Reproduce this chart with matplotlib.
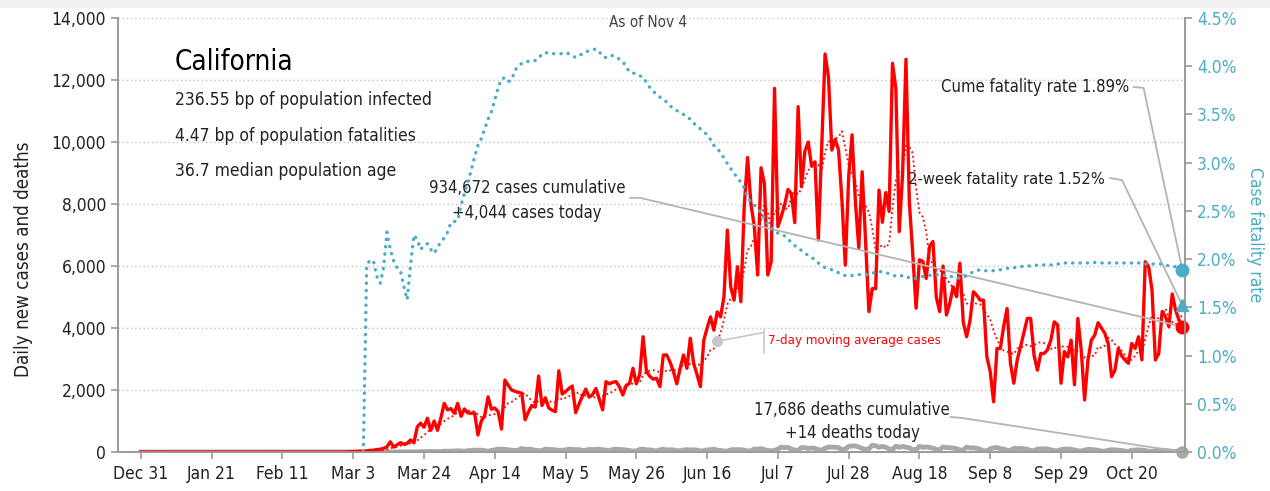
import matplotlib
matplotlib.use("Agg")
import matplotlib.pyplot as plt
from matplotlib import font_manager as fm
import numpy as np
import pandas as pd

# pick a narrow face if one is installed
_faces = [(f.name, f.stretch) for f in fm.fontManager.ttflist]
_narrow = [n for n, s in _faces if s in ("condensed", "semi-condensed", "extra-condensed", 75, 62, 87)
           or "Narrow" in n or "Condensed" in n]
plt.rcParams['font.family'] = list(dict.fromkeys(_narrow[:1] + ['DejaVu Sans']))
plt.rcParams['font.stretch'] = 'condensed'

# ---- data ----
start_date = "2019-12-31"
series_start = "2020-03-01"

# daily new cases from Mar 1, one row per week
cases = [
    5, 10, 15, 20, 30, 20, 40,
    50, 60, 80, 90, 120, 170, 330,
    160, 230, 300, 250, 280, 390, 300,
    810, 930, 800, 1090, 700, 1000, 700,
    1100, 1570, 1360, 1400, 1250, 1570, 1150,
    1390, 1260, 1250, 1260, 550, 1000, 1170,
    1780, 1380, 1420, 1300, 740, 2320, 2150,
    2000, 1960, 1920, 1900, 1040, 1300, 1500,
    1450, 2450, 1500, 1750, 1420, 1350, 1300,
    2620, 1870, 1950, 2050, 2130, 1270, 1550,
    1800, 2030, 1770, 1850, 2050, 1700, 1360,
    2270, 2200, 2250, 2270, 2100, 1840, 2150,
    2220, 2700, 2200, 2500, 3720, 2600, 2440,
    2350, 2380, 2110, 3130, 3130, 2900, 2600,
    2200, 2700, 3130, 2700, 3670, 2860, 2500,
    2110, 3600, 4000, 4360, 3930, 4520, 4360,
    5010, 7160, 5330, 4900, 5980, 4850, 7910,
    9500, 8000, 7270, 5710, 9170, 8660, 5710,
    6140, 11730, 7270, 7600, 7970, 8470, 8340,
    7400, 11140, 8560, 9700, 10000, 9220, 9360,
    6840, 9800, 12840, 12100, 9740, 10080, 9740,
    8130, 6030, 8880, 10230, 8060, 6590, 9040,
    6840, 4530, 5270, 5270, 8450, 7410, 8370,
    7760, 12540, 11730, 7110, 8980, 12670, 8060,
    6410, 4640, 6200, 6150, 5600, 6630, 6790,
    5000, 4530, 6000, 4420, 4800, 5330, 5010,
    6090, 4180, 3720, 4240, 5170, 5060, 4900,
    4900, 3070, 2590, 1620, 3340, 3340, 4060,
    4630, 2860, 2220, 2970, 3400, 3850, 4310,
    4310, 3120, 2640, 3180, 3180, 3300, 3610,
    4200, 4100, 2220, 3240, 3070, 3610, 2170,
    4310, 3290, 1680, 2970, 3610, 3770, 4170,
    4000, 3830, 3500, 2430, 2640, 3340, 3100,
    2970, 2860, 3500, 3340, 3720, 2970, 6140,
    5980, 5230, 2970, 3180, 4530, 4370, 4040,
    5100, 4580, 4260, 4044,
]

# daily deaths from Mar 1
deaths = [
    0, 0, 0, 1, 0, 0, 0,
    0, 1, 0, 1, 2, 1, 2,
    1, 2, 5, 4, 3, 6, 5,
    6, 13, 9, 14, 18, 15, 17,
    14, 25, 27, 32, 30, 40, 33,
    24, 45, 46, 61, 58, 59, 45,
    24, 50, 71, 91, 95, 86, 74,
    58, 50, 62, 115, 84, 90, 84,
    52, 45, 48, 95, 85, 79, 71,
    53, 56, 67, 95, 82, 75, 79,
    48, 57, 82, 75, 86, 92, 69,
    63, 40, 80, 91, 84, 75, 64,
    48, 30, 36, 82, 92, 68, 70,
    48, 38, 72, 86, 65, 71, 68,
    42, 40, 65, 74, 66, 70, 60,
    36, 38, 70, 72, 92, 58, 50,
    32, 30, 68, 78, 75, 76, 56,
    35, 38, 100, 89, 110, 75, 48,
    40, 52, 94, 158, 143, 148, 95,
    62, 50, 144, 140, 115, 130, 118,
    78, 60, 120, 157, 159, 152, 140,
    70, 92, 178, 197, 194, 161, 117,
    80, 100, 219, 202, 155, 180, 153,
    102, 76, 186, 151, 180, 155, 138,
    76, 74, 182, 150, 162, 148, 126,
    80, 70, 165, 145, 138, 125, 110,
    62, 64, 160, 130, 135, 121, 88,
    42, 36, 98, 135, 144, 108, 95,
    55, 48, 120, 110, 118, 105, 90,
    48, 40, 95, 98, 105, 96, 72,
    45, 35, 80, 92, 98, 86, 68,
    38, 30, 60, 85, 80, 70, 55,
    30, 28, 56, 75, 68, 64, 52,
    26, 22, 52, 64, 70, 58, 48,
    24, 20, 40, 60, 56, 52, 38,
    22, 18, 36, 14,
]

# case fatality rate (%) from Mar 1
nan = np.nan
cfr = [
    nan, nan, nan, nan, nan, 0.00, 1.94,
    1.99, 1.98, 1.82, 1.75, 1.91, 2.28, 2.10,
    1.98, 1.91, 1.88, 1.72, 1.58, 1.94, 2.25,
    2.20, 2.10, 2.14, 2.16, 2.10, 2.06, 2.12,
    2.18, 2.22, 2.28, 2.38, 2.39, 2.40, 2.56,
    2.68, 2.80, 2.92, 3.06, 3.18, 3.25, 3.35,
    3.45, 3.53, 3.65, 3.78, 3.87, 3.88, 3.84,
    3.86, 3.96, 4.00, 4.03, 4.05, 4.05, 4.05,
    4.06, 4.08, 4.13, 4.14, 4.14, 4.13, 4.13,
    4.13, 4.13, 4.14, 4.13, 4.11, 4.09, 4.11,
    4.13, 4.15, 4.16, 4.17, 4.18, 4.15, 4.10,
    4.09, 4.11, 4.11, 4.10, 4.07, 4.05, 3.99,
    3.94, 3.93, 3.92, 3.90, 3.89, 3.83, 3.78,
    3.74, 3.71, 3.68, 3.65, 3.63, 3.59, 3.56,
    3.54, 3.52, 3.50, 3.48, 3.45, 3.41, 3.38,
    3.35, 3.32, 3.29, 3.24, 3.18, 3.15, 3.10,
    3.05, 2.99, 2.94, 2.89, 2.84, 2.80, 2.74,
    2.64, 2.59, 2.56, 2.52, 2.48, 2.42, 2.36,
    2.33, 2.28, 2.27, 2.26, 2.24, 2.21, 2.17,
    2.14, 2.11, 2.09, 2.06, 2.04, 2.02, 1.99,
    1.96, 1.94, 1.91, 1.90, 1.89, 1.87, 1.86,
    1.84, 1.83, 1.83, 1.83, 1.84, 1.84, 1.84,
    1.84, 1.84, 1.85, 1.87, 1.87, 1.87, 1.86,
    1.85, 1.84, 1.82, 1.82, 1.83, 1.81, 1.81,
    1.80, 1.80, 1.81, 1.82, 1.83, 1.83, 1.84,
    1.84, 1.83, 1.83, 1.83, 1.82, 1.82, 1.81,
    1.80, 1.81, 1.83, 1.85, 1.87, 1.88, 1.89,
    1.88, 1.88, 1.88, 1.88, 1.89, 1.89, 1.90,
    1.905, 1.91, 1.91, 1.92, 1.92, 1.93, 1.93,
    1.93, 1.93, 1.94, 1.94, 1.94, 1.94, 1.94,
    1.94, 1.95, 1.95, 1.96, 1.96, 1.96, 1.96,
    1.96, 1.96, 1.96, 1.96, 1.96, 1.965, 1.965,
    1.96, 1.96, 1.96, 1.96, 1.96, 1.96, 1.96,
    1.96, 1.96, 1.96, 1.96, 1.96, 1.96, 1.95,
    1.95, 1.95, 1.95, 1.95, 1.95, 1.94, 1.93,
    1.93, 1.92, 1.91, 1.89,
]

two_week_cfr = 1.52
tick_labels = ["Dec 31", "Jan 21", "Feb 11", "Mar 3", "Mar 24", "Apr 14", "May 5",
               "May 26", "Jun 16", "Jul 7", "Jul 28", "Aug 18", "Sep 8", "Sep 29", "Oct 20"]

state = "California"
stats_lines = ["236.55 bp of population infected",
               "4.47 bp of population fatalities",
               "36.7 median population age"]

RED = "#ff0000"
TEAL = "#4bacc6"
GREY = "#a8a8a8"
TXT = "#222222"

# ---- build frame ----
full_idx = pd.date_range(start_date, "2020-11-04", freq="D")
part_idx = pd.date_range(series_start, periods=len(cases), freq="D")
df = pd.DataFrame({"cases": cases, "deaths": deaths, "cfr": cfr}, index=part_idx)
df = df.reindex(full_idx)
df["cases"] = df["cases"].fillna(0)
df["deaths"] = df["deaths"].fillna(0)
df["ma"] = df["cases"].rolling(7).mean()
last = df.index[-1]

fig = plt.figure(figsize=(12.7, 4.91), dpi=100)
fig.patches.append(plt.Rectangle((0, 0.985), 1, 0.015, transform=fig.transFigure,
                                 color="#f0f0f0", zorder=0))
ax = fig.add_axes([0.0929, 0.0794, 0.8402, 0.8839])
ax2 = ax.twinx()

ax.set_ylim(0, 14000)
ax2.set_ylim(0, 4.5)
ax.set_xlim(pd.Timestamp(start_date) - pd.Timedelta(days=6.8),
            pd.Timestamp(start_date) + pd.Timedelta(days=309.8))

ax.grid(axis="y", color="#c4c4c4", linestyle=(0, (1, 2)), linewidth=1)
ax.set_axisbelow(True)

# deaths
ax.plot(df.index, df["deaths"], color=GREY, lw=3.5, solid_joinstyle="round", zorder=3)
# cases
ax.plot(df.index, df["cases"], color=RED, lw=2.4, solid_joinstyle="round", zorder=4)
ax.plot(df.index, df["ma"], color=RED, lw=1.3, linestyle=(0, (1, 1.6)), zorder=4)
# cfr
ax2.plot(df.index, df["cfr"], color=TEAL, lw=2.4, linestyle=(0, (0.1, 2.1)),
         dash_capstyle="round", zorder=2)

# end markers
ax.plot([last], [df["cases"].iloc[-1]], "o", color=RED, ms=9, zorder=6, clip_on=False)
ax.plot([last], [df["deaths"].iloc[-1]], "o", color=GREY, ms=8, zorder=6, clip_on=False)
ax2.plot([last], [df["cfr"].iloc[-1]], "o", color=TEAL, ms=9, zorder=6, clip_on=False)
ax2.plot([last], [two_week_cfr], "^", color=TEAL, ms=9, zorder=6, clip_on=False)

# axes styling
tick_dates = pd.date_range(start_date, periods=len(tick_labels), freq="21D")
ax.set_xticks(tick_dates)
ax.set_xticklabels(tick_labels)
ax.set_yticks(np.arange(0, 14001, 2000))
ax.set_yticklabels([f"{v:,}" for v in range(0, 14001, 2000)])
ax2.set_yticks(np.arange(0, 4.51, 0.5))
ax2.set_yticklabels([f"{v:.1f}%" for v in np.arange(0, 4.51, 0.5)])

for a in (ax, ax2):
    a.spines["top"].set_visible(False)
    for s in ("left", "right", "bottom"):
        a.spines[s].set_color("#9a9a9a")
        a.spines[s].set_linewidth(1.2)
ax.tick_params(axis="both", colors="#9a9a9a", labelcolor=TXT, labelsize=12.5, length=5, width=1.2)
ax.tick_params(axis="x", pad=4)
ax2.tick_params(axis="y", colors="#9a9a9a", labelcolor=TEAL, labelsize=12.5, length=5, width=1.2)

ax.set_ylabel("Daily new cases and deaths", fontsize=13.5, color=TXT)
ax.yaxis.set_label_coords(-0.08, 0.445)
ax2.set_ylabel("Case fatality rate", fontsize=12.5, color=TEAL, rotation=270, labelpad=20)

def day(n):
    return pd.Timestamp(start_date) + pd.Timedelta(days=n)

# text block
ax.text(day(10.1), 12580, state, fontsize=20, color="black", va="center", ha="left")
for i, line in enumerate(stats_lines):
    ax.text(day(10.1), 11340 - i * 1140, line, fontsize=12.5, color=TXT, va="center", ha="left")

ax.text(day(150.5), 13870, "As of Nov 4", fontsize=11, color="#444444", ha="center", va="center")

# cases annotation
ax.text(day(114.5), 8520, "934,672 cases cumulative", fontsize=12, color=TXT, ha="center", va="center")
ax.text(day(114.5), 7710, "+4,044 cases today", fontsize=12, color=TXT, ha="center", va="center")
ax.plot([day(145.2), day(148.1), last], [8200, 8200, df["cases"].iloc[-1]],
        color="#b4b4b4", lw=1.3, zorder=5, clip_on=False)

# deaths annotation
ax.text(day(211), 1350, "17,686 deaths cumulative", fontsize=12, color=TXT, ha="center", va="center")
ax.text(day(211), 610, "+14 deaths today", fontsize=12, color=TXT, ha="center", va="center")
ax.plot([day(240.2), day(243.5), last], [1130, 1100, 0],
        color="#b4b4b4", lw=1.3, zorder=5, clip_on=False)

# fatality rate annotations
ax2.text(day(293.1), 3.78, "Cume fatality rate 1.89%", fontsize=12, color=TXT, ha="right", va="center")
ax2.plot([day(294.6), day(297.5), last], [3.785, 3.775, df["cfr"].iloc[-1]],
         color="#b4b4b4", lw=1.3, zorder=5, clip_on=False)
ax2.text(day(286), 2.83, "2-week fatality rate 1.52%", fontsize=11.8, color=TXT, ha="right", va="center")
ax2.plot([day(287.6), day(291.1), last], [2.84, 2.82, two_week_cfr],
         color="#b4b4b4", lw=1.3, zorder=5, clip_on=False)

# moving-average callout
ma_day = day(171)
ma_val = df.loc[ma_day, "ma"]
ax.plot([ma_day], [ma_val], "o", color="#c8c8c8", ms=7, zorder=6)
ax.plot([ma_day, day(184.6)], [ma_val, 3850], color="#c8c8c8", lw=1.2, zorder=5)
ax.plot([day(184.8), day(184.8)], [3935, 3190], color="#c8c8c8", lw=1.2, zorder=5)
ax.text(day(186), 3600, "7-day moving average cases", fontsize=9.5, color=RED, ha="left", va="center")

fig.savefig("out.png", dpi=100)
